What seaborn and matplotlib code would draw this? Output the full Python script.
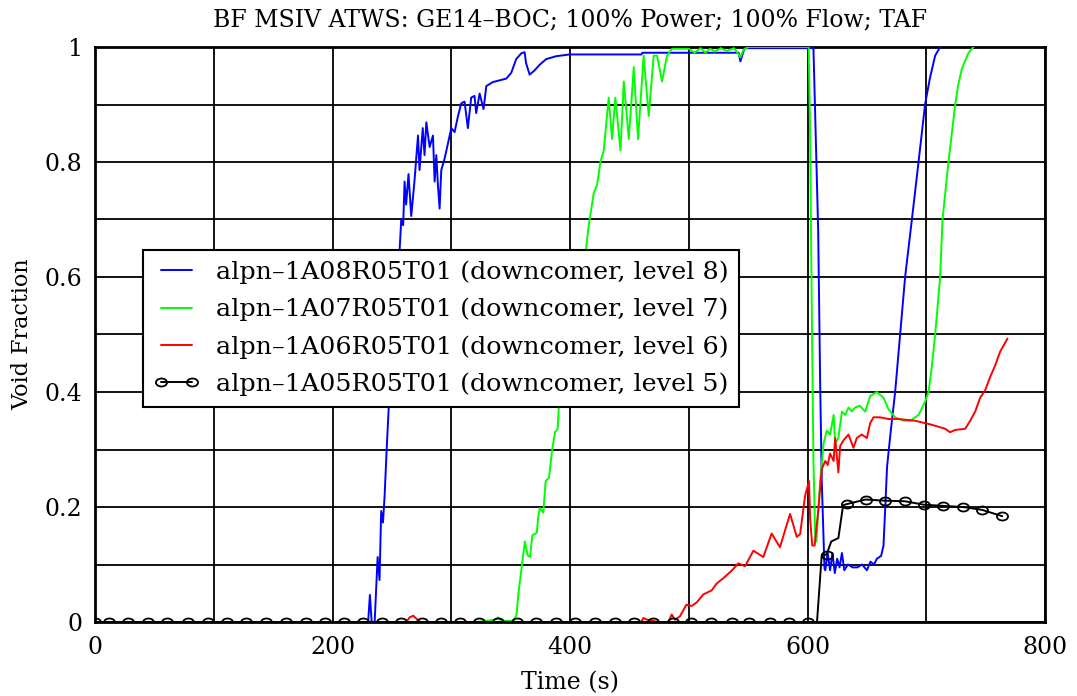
import numpy as np
import pandas as pd
import matplotlib
matplotlib.use("Agg")
import matplotlib.pyplot as plt
from matplotlib.ticker import MultipleLocator, FuncFormatter
from matplotlib.path import Path
from matplotlib.transforms import Affine2D
import seaborn as sns

# ---------------- data ----------------
blue_t = [0, 230, 231.5, 233, 235.5, 238, 239.6, 241, 242.5, 243.9, 245.3, 246.7, 248, 250, 253,
          256.5, 257.9, 259.5, 260.7, 262, 264, 266.3, 269, 272, 273.3, 276, 277.5, 279, 281.8,
          284.6, 286, 287.4, 288.8, 290.2, 291.6, 294.4, 297.2, 300, 302.8, 305.6, 308.4, 311.2,
          314, 316.8, 319.6, 321, 323.9, 327.2, 329.5, 335, 340.7, 346.3, 350.5, 354.7, 359,
          361.8, 363, 366, 370, 374.4, 380, 388.4, 399.6, 460, 461, 542, 543.5, 545, 547, 605,
          606.5, 609, 610.7, 612, 614.3, 615, 617, 619, 621, 623, 625, 627, 629, 631, 634, 638,
          642, 646, 650, 653, 656, 658.4, 662, 664, 665.5, 667, 670, 673.8, 678, 682.2, 687.9,
          693.5, 699, 703, 707.5, 711.7]
blue_v = [0, 0, 0.047, 0.0, 0.0, 0.113, 0.073, 0.193, 0.173, 0.22, 0.286, 0.346, 0.40, 0.45, 0.55,
          0.646, 0.70, 0.69, 0.766, 0.726, 0.779, 0.706, 0.766, 0.846, 0.786, 0.859, 0.812, 0.869,
          0.826, 0.846, 0.766, 0.812, 0.759, 0.719, 0.786, 0.806, 0.832, 0.859, 0.852, 0.879,
          0.902, 0.905, 0.859, 0.912, 0.915, 0.885, 0.919, 0.892, 0.932, 0.939, 0.942, 0.945,
          0.955, 0.979, 0.989, 0.991, 0.972, 0.952, 0.959, 0.969, 0.979, 0.984, 0.987, 0.987,
          0.99, 0.99, 0.975, 0.985, 0.998, 0.998, 0.88, 0.68, 0.41, 0.246, 0.093, 0.09, 0.12,
          0.09, 0.12, 0.085, 0.11, 0.095, 0.12, 0.09, 0.10, 0.095, 0.095, 0.10, 0.09, 0.105, 0.10,
          0.11, 0.115, 0.133, 0.20, 0.27, 0.33, 0.40, 0.50, 0.60, 0.70, 0.80, 0.90, 0.945, 0.985,
          1.0]

green_t = [0, 320, 330, 336, 339.6, 342, 350, 352.3, 355, 356.5, 359.3, 362, 364.4, 366.3, 368.3,
           372, 373.3, 374.7, 377.5, 379.5, 382.3, 385, 387.4, 389.6, 390.7, 392, 400, 407, 413,
           415.8, 420, 422.8, 425.6, 428.4, 432.6, 435.4, 438.2, 442.5, 445.3, 449.5, 453.7,
           457.3, 462, 466.3, 470.5, 473.3, 477.5, 481.7, 486, 500, 505, 510, 514, 518, 522, 527,
           532, 538, 541, 543.5, 546, 550, 601, 602, 603.6, 605, 606.5, 607.5, 610.7, 613.5,
           616.3, 619, 622, 623.3, 626, 629, 631.7, 634.5, 637.3, 640, 644, 648.6, 652.8, 658.4,
           664, 668.2, 673.8, 680.8, 686.5, 693.5, 699, 701.9, 704.5, 707.5, 711.7, 713.7, 718.7,
           724.4, 727, 730, 735.6, 739.8]
green_v = [0, 0, 0.002, 0.004, 0.008, 0.002, 0.002, 0.0, 0.013, 0.048, 0.095, 0.14, 0.116, 0.113,
           0.151, 0.155, 0.184, 0.198, 0.19, 0.245, 0.251, 0.30, 0.33, 0.336, 0.378, 0.40, 0.50,
           0.58, 0.64, 0.69, 0.746, 0.76, 0.80, 0.82, 0.912, 0.84, 0.912, 0.82, 0.94, 0.84, 0.965,
           0.84, 0.985, 0.88, 0.985, 0.985, 0.94, 0.985, 0.997, 0.997, 0.99, 0.998, 0.99, 0.997,
           0.992, 0.998, 0.993, 0.998, 0.99, 0.982, 0.995, 1.0, 1.0, 0.88, 0.546, 0.28, 0.146,
           0.14, 0.246, 0.31, 0.333, 0.326, 0.36, 0.31, 0.32, 0.366, 0.36, 0.373, 0.366, 0.373,
           0.376, 0.366, 0.393, 0.40, 0.39, 0.37, 0.356, 0.35, 0.35, 0.36, 0.383, 0.40, 0.44,
           0.50, 0.60, 0.70, 0.80, 0.90, 0.935, 0.962, 0.99, 1.0]

red_t = [0, 262, 265, 268, 271, 274, 460, 461.8, 465, 470, 474, 483, 485.6, 488.4, 492.6, 498,
         502.5, 506.7, 512.3, 519.3, 523.5, 529, 536, 541.8, 547.4, 554.4, 562.8, 569.8, 576.8,
         585.3, 591, 593.8, 598, 601.3, 602.2, 604, 606, 609, 612, 615, 617, 619, 622, 623.3, 626,
         627.5, 630.3, 634.5, 638.7, 641.5, 645.7, 650, 652.8, 655.6, 661, 668.2, 676.6, 690.7,
         704.7, 716, 720, 724.4, 732.8, 737, 741.2, 745.4, 749.6, 753.8, 758, 762.2, 768.4]
red_v = [0, 0, 0.008, 0.011, 0.005, 0, 0, 0.007, 0.004, 0.002, 0, 0.0, 0.013, 0.004, 0.01, 0.03,
         0.028, 0.034, 0.048, 0.055, 0.067, 0.076, 0.089, 0.102, 0.097, 0.124, 0.113, 0.154,
         0.13, 0.188, 0.148, 0.153, 0.22, 0.245, 0.18, 0.133, 0.133, 0.193, 0.266, 0.28, 0.273,
         0.293, 0.28, 0.32, 0.26, 0.306, 0.316, 0.326, 0.303, 0.32, 0.326, 0.32, 0.346, 0.356,
         0.356, 0.353, 0.353, 0.35, 0.343, 0.336, 0.33, 0.334, 0.336, 0.35, 0.366, 0.39, 0.403,
         0.426, 0.446, 0.47, 0.493]

black_t = [0, 12, 28, 45, 61, 78, 95, 111, 127, 144, 161, 178, 194, 210, 226, 242, 258, 275, 291,
           307, 323, 339, 355, 371, 388, 404, 421, 438, 454, 470, 487, 502, 519, 536, 551, 568,
           584, 600, 608, 612, 616, 620, 626, 630, 633, 649, 665, 682, 698, 714, 731, 747, 764]
black_v = [0] * 38 + [0, 0.117, 0.117, 0.14, 0.146, 0.203, 0.205, 0.213, 0.211, 0.21, 0.204,
                      0.202, 0.2, 0.195, 0.184]
black_marker_t = [0, 12, 28, 45, 61, 78, 95, 111, 127, 144, 161, 178, 194, 210, 226, 242, 258,
                  275, 291, 307, 323, 339, 355, 371, 388, 404, 421, 438, 454, 470, 487, 502, 519,
                  536, 551, 568, 584, 600, 616, 633, 649, 665, 682, 698, 714, 731, 747, 764]

labels = ["alpn\u20131A08R05T01 (downcomer, level 8)",
          "alpn\u20131A07R05T01 (downcomer, level 7)",
          "alpn\u20131A06R05T01 (downcomer, level 6)",
          "alpn\u20131A05R05T01 (downcomer, level 5)"]
title = "BF MSIV ATWS: GE14\u2013BOC; 100% Power; 100% Flow; TAF"
xlabel = "Time (s)"
ylabel = "Void Fraction"

# ---------------- style ----------------
sns.set_style("white")
plt.rcParams["font.family"] = ["DejaVu Serif"]
plt.rcParams["text.color"] = "black"
plt.rcParams["axes.labelcolor"] = "black"

fig = plt.figure(figsize=(10.77, 6.96), dpi=100)
ax = fig.add_axes([95 / 1077, (696 - 622) / 696, 950 / 1077, 575 / 696])

# slightly flattened open circle marker
ellipse = Path.unit_circle().transformed(Affine2D().scale(1.0, 0.72))

lw = 1.4
sns.lineplot(x=blue_t, y=blue_v, color="#0000ff", lw=lw, label=labels[0], ax=ax,
             estimator=None, sort=False, zorder=3)
sns.lineplot(x=green_t, y=green_v, color="#00ff00", lw=lw, label=labels[1], ax=ax,
             estimator=None, sort=False, zorder=3)
sns.lineplot(x=red_t, y=red_v, color="#ff0000", lw=lw, label=labels[2], ax=ax,
             estimator=None, sort=False, zorder=3)
mk_idx = [i for i, t in enumerate(black_t) if t in black_marker_t]
sns.lineplot(x=black_t, y=black_v, color="black", lw=lw, label=labels[3], ax=ax,
             estimator=None, sort=False, zorder=4, marker=ellipse, markevery=mk_idx,
             markersize=8, markerfacecolor="none", markeredgecolor="black", markeredgewidth=1.3)

ax.set_xlim(0, 800)
ax.set_ylim(0, 1)
ax.xaxis.set_major_locator(MultipleLocator(200))
ax.xaxis.set_minor_locator(MultipleLocator(100))
ax.yaxis.set_major_locator(MultipleLocator(0.2))
ax.yaxis.set_minor_locator(MultipleLocator(0.1))
ax.yaxis.set_major_formatter(FuncFormatter(lambda v, p: "%g" % round(v, 2)))
ax.xaxis.set_major_formatter(FuncFormatter(lambda v, p: "%g" % v))
ax.grid(True, which="both", color="black", lw=1.3)
ax.set_axisbelow(True)
ax.tick_params(axis="both", which="both", length=0, labelsize=17, colors="black")
ax.tick_params(axis="x", pad=10)
ax.tick_params(axis="y", pad=9)
for s in ax.spines.values():
    s.set_color("black")
    s.set_linewidth(2)

ax.set_title(title, fontsize=17, pad=15, color="black")
ax.set_xlabel(xlabel, fontsize=17, labelpad=9)
ax.set_ylabel(ylabel, fontsize=16, labelpad=8)

leg = ax.legend(loc="upper left", bbox_to_anchor=(0.0505, 0.647), fontsize=18.3,
                frameon=True, fancybox=False, framealpha=1, edgecolor="black",
                borderpad=0.42, labelspacing=0.54, handlelength=1.8, handletextpad=0.65,
                borderaxespad=0, numpoints=2)
leg.get_frame().set_linewidth(1.5)
for txt in leg.get_texts():
    txt.set_color("black")

fig.savefig("out.png", dpi=100)
